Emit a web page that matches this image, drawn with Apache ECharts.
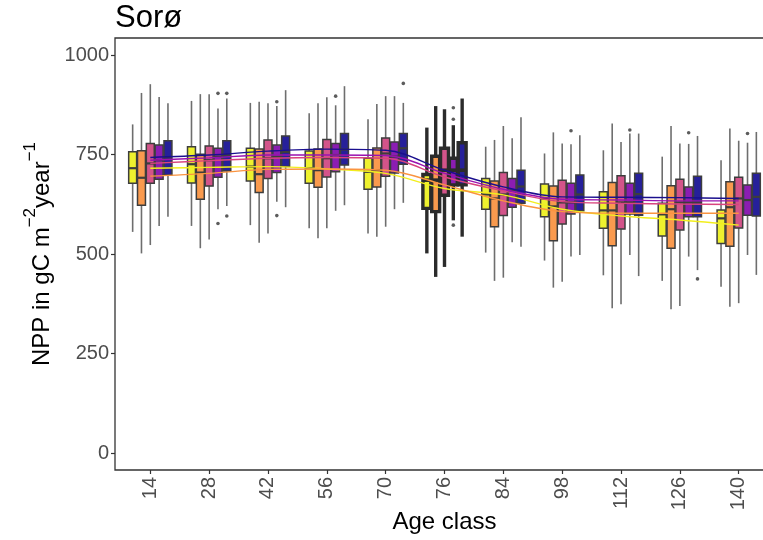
<!DOCTYPE html>
<html>
<head>
<meta charset="utf-8">
<script src="https://cdn.jsdelivr.net/npm/echarts@6/dist/echarts.min.js"></script>
<style>
  html, body { margin: 0; padding: 0; background: #ffffff; }
  #chart { width: 763px; height: 540px; }
</style>
</head>
<body>
<div id="chart"></div>
<script>
// Age classes on the x axis
const ageClasses = ['14', '28', '42', '56', '70', '76', '84', '98', '112', '126', '140'];

// Box statistics per age class: [lower whisker, Q1, median, Q3, upper whisker]
const boxesYellow = [
  [556, 678, 716, 757, 826], [571, 679, 726, 770, 885], [573, 684, 720, 766, 880],
  [565, 678, 716, 759, 854], [552, 663, 707, 741, 839], [502, 615, 686, 700, 818],
  [504, 613, 650, 690, 770], [484, 594, 640, 676, 753], [447, 565, 610, 657, 761],
  [433, 546, 600, 628, 745], [418, 527, 590, 611, 736]
];
const boxesOrange = [
  [502, 623, 692, 760, 905], [515, 638, 705, 751, 902], [529, 655, 701, 764, 883],
  [540, 668, 711, 764, 879], [544, 669, 711, 767, 877], [443, 607, 686, 746, 872],
  [433, 569, 640, 684, 787], [416, 534, 620, 671, 806], [364, 521, 610, 680, 828],
  [362, 515, 613, 672, 822], [368, 520, 618, 682, 816]
];
const boxesPink = [
  [523, 678, 728, 778, 927], [537, 671, 736, 772, 902], [552, 690, 741, 787, 879],
  [565, 694, 741, 788, 894], [569, 696, 753, 792, 897], [468, 648, 711, 766, 864],
  [441, 597, 650, 705, 822], [431, 576, 630, 686, 778], [374, 563, 630, 697, 782],
  [370, 561, 630, 688, 778], [377, 566, 640, 693, 785]
];
const boxesPurple = [
  [571, 688, 736, 774, 895], [613, 693, 745, 766, 866], [632, 705, 745, 774, 872],
  [609, 707, 749, 778, 874], [613, 704, 745, 782, 897], [585, 674, 711, 741, 824],
  [530, 618, 660, 690, 791], [494, 601, 630, 678, 776], [498, 601, 630, 678, 803],
  [494, 594, 630, 669, 777], [498, 598, 636, 674, 780]
];
const boxesBlue = [
  [594, 699, 743, 785, 879], [621, 709, 749, 785, 891], [618, 720, 757, 797, 912],
  [623, 724, 763, 803, 922], [629, 726, 766, 803, 880], [544, 674, 711, 780, 891],
  [519, 628, 670, 711, 844], [498, 609, 650, 699, 799], [445, 598, 651, 703, 803],
  [460, 594, 630, 696, 797], [448, 596, 644, 703, 807]
];

// Outlying points: [age class index, value]
const outliersPurple = [
  [1, 904], [1, 577], [2, 883], [2, 597], [3, 897], [5, 868], [5, 839], [5, 573],
  [7, 810], [8, 812], [9, 805], [10, 803]
];
const outliersBlue = [[1, 904], [1, 596], [4, 929], [9, 438]];

// Smoothed trend per group, evaluated at each age class
const trendYellow = [716, 718, 720, 714, 703, 665, 649, 613, 596, 586, 573];
const trendOrange = [696, 703, 713, 714, 711, 674, 634, 607, 603, 603, 603];
const trendPink   = [728, 735, 741, 743, 741, 694, 659, 632, 628, 626, 625];
const trendPurple = [736, 742, 749, 749, 748, 703, 663, 638, 636, 634, 634];
const trendBlue   = [743, 749, 759, 764, 761, 711, 669, 644, 643, 642, 640];

// y-axis tick values
const yTicks = [0, 250, 500, 750, 1000];

const groups = [
  { fill: '#EEF12E', line: '#F2EE1E', boxes: boxesYellow, outliers: [],             trend: trendYellow },
  { fill: '#F99A4E', line: '#FA9440', boxes: boxesOrange, outliers: [],             trend: trendOrange },
  { fill: '#D3548A', line: '#D8447E', boxes: boxesPink,   outliers: [],             trend: trendPink },
  { fill: '#8B1DB2', line: '#9A12B0', boxes: boxesPurple, outliers: outliersPurple, trend: trendPurple },
  { fill: '#26209A', line: '#1A0F8E', boxes: boxesBlue,   outliers: outliersBlue,   trend: trendBlue }
];

const DODGE = 0.15;          // spacing between neighbouring boxes (x units)
const BOX_W = 0.135;         // box width (x units)
const HIGHLIGHT = 5;         // age class drawn with heavy outlines
const FONT = 'Liberation Sans, Arial, sans-serif';

function slotX(classIdx, slot) {
  return classIdx + 1 + (slot - 2) * DODGE;
}

function boxRenderer(slot, fill) {
  return function (params, api) {
    const ci = api.value(0);
    const xc = slotX(ci, slot);
    const pLow = api.coord([xc, api.value(1)]);
    const pQ1 = api.coord([xc, api.value(2)]);
    const pMed = api.coord([xc, api.value(3)]);
    const pQ3 = api.coord([xc, api.value(4)]);
    const pHigh = api.coord([xc, api.value(5)]);
    const left = api.coord([xc - BOX_W / 2, 0])[0];
    const right = api.coord([xc + BOX_W / 2, 0])[0];
    const bold = ci === HIGHLIGHT;
    const whiskerStyle = { stroke: bold ? '#2b2b2b' : '#6e6e6e', lineWidth: bold ? 3.4 : 1.6 };
    const edge = bold ? '#2b2b2b' : '#3d3d3d';
    const edgeW = bold ? 3.4 : 1.5;
    return {
      type: 'group',
      children: [
        { type: 'line', shape: { x1: pLow[0], y1: pLow[1], x2: pQ1[0], y2: pQ1[1] }, style: whiskerStyle },
        { type: 'line', shape: { x1: pQ3[0], y1: pQ3[1], x2: pHigh[0], y2: pHigh[1] }, style: whiskerStyle },
        { type: 'rect', shape: { x: left, y: pQ3[1], width: right - left, height: pQ1[1] - pQ3[1] },
          style: { fill: fill, stroke: edge, lineWidth: edgeW } },
        { type: 'line', shape: { x1: left, y1: pMed[1], x2: right, y2: pMed[1] },
          style: { stroke: edge, lineWidth: bold ? 3.6 : 2.2 } }
      ]
    };
  };
}

const series = [];
groups.forEach(function (g, slot) {
  series.push({
    type: 'custom',
    name: 'box' + slot,
    renderItem: boxRenderer(slot, g.fill),
    encode: { x: 0, y: [1, 2, 3, 4, 5] },
    data: g.boxes.map(function (b, i) { return [i].concat(b); }),
    z: 2,
    silent: true
  });
});
groups.forEach(function (g, slot) {
  if (!g.outliers.length) return;
  series.push({
    type: 'scatter',
    name: 'out' + slot,
    symbol: 'circle',
    symbolSize: 3.6,
    itemStyle: { color: '#333333' },
    data: g.outliers.map(function (o) { return [slotX(o[0], slot), o[1]]; }),
    z: 3,
    silent: true
  });
});
groups.forEach(function (g, slot) {
  series.push({
    type: 'line',
    name: 'trend' + slot,
    smooth: 0.35,
    showSymbol: false,
    lineStyle: { color: g.line, width: 1.4 },
    data: g.trend.map(function (v, i) { return [i + 1, v]; }),
    z: 4,
    silent: true
  });
});

const chart = echarts.init(document.getElementById('chart'), null, { renderer: 'canvas' });
chart.setOption({
  animation: false,
  backgroundColor: '#ffffff',
  title: {
    text: 'Sorø',
    left: 115,
    top: 3,
    padding: 0,
    textStyle: { fontFamily: FONT, fontSize: 31, fontWeight: 'normal', color: '#000000' }
  },
  grid: {
    left: 115,
    top: 38,
    width: 659,
    height: 432,
    outerBoundsMode: 'none',
    containLabel: false,
    show: true,
    borderColor: '#333333',
    borderWidth: 1.3,
    backgroundColor: 'transparent'
  },
  xAxis: {
    type: 'value',
    min: 0.4,
    max: 11.6,
    name: 'Age class',
    nameLocation: 'middle',
    nameGap: 40,
    nameMoveOverlap: false,
    nameTextStyle: { fontFamily: FONT, fontSize: 24, color: '#000000' },
    axisLine: { show: false, onZero: false },
    splitLine: { show: false },
    axisTick: {
      show: true, length: 4, customValues: ageClasses.map(function (_, i) { return i + 1; }),
      lineStyle: { color: '#333333', width: 1.2 }
    },
    axisLabel: {
      customValues: ageClasses.map(function (_, i) { return i + 1; }),
      formatter: function (v) { return ageClasses[Math.round(v) - 1]; },
      rotate: 90,
      margin: 7,
      fontFamily: FONT,
      fontSize: 20,
      color: '#4d4d4d'
    }
  },
  yAxis: {
    type: 'value',
    min: -42,
    max: 1043,
    name: '{t|NPP in gC m}{sup|−2}{t|year}{sup|−1}',
    nameLocation: 'middle',
    nameRotate: 90,
    nameGap: 61,
    nameMoveOverlap: false,
    nameTextStyle: {
      fontFamily: FONT, fontSize: 24, color: '#000000', lineHeight: 32,
      rich: {
        t: { fontFamily: FONT, fontSize: 24, color: '#000000', verticalAlign: 'bottom', lineHeight: 32 },
        sup: { fontFamily: FONT, fontSize: 17, color: '#000000', verticalAlign: 'top', lineHeight: 27 }
      }
    },
    axisLine: { show: false, onZero: false },
    splitLine: { show: false },
    axisTick: { show: true, length: 4, customValues: yTicks, lineStyle: { color: '#333333', width: 1.2 } },
    axisLabel: {
      customValues: yTicks,
      formatter: function (v) { return String(v); },
      margin: 6,
      fontFamily: FONT,
      fontSize: 20,
      color: '#4d4d4d'
    }
  },
  series: series
});
</script>
</body>
</html>
